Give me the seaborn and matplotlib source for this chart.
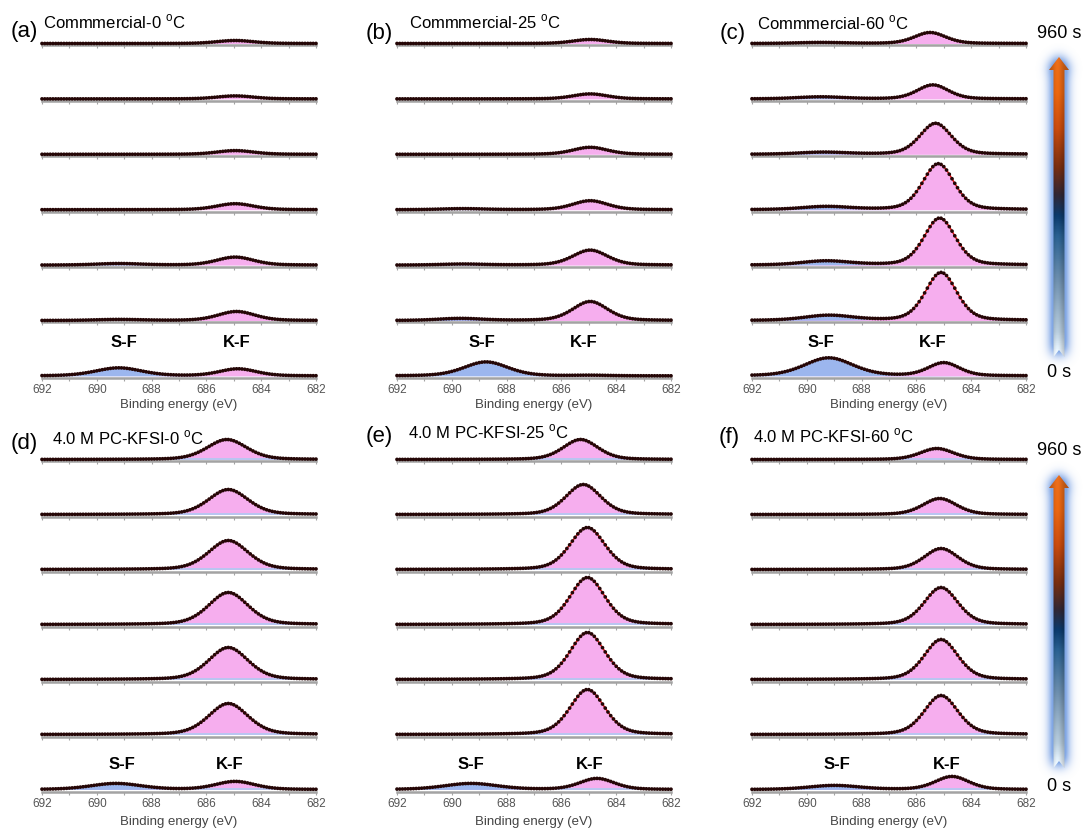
import numpy as np
import matplotlib
matplotlib.use("Agg")
import matplotlib.pyplot as plt
import seaborn as sns
from matplotlib.colors import LinearSegmentedColormap, to_rgb
from matplotlib.path import Path
from matplotlib.patches import PathPatch

sns.set_style("white")
plt.rcParams["font.family"] = ["Liberation Sans", "DejaVu Sans"]
plt.rcParams["mathtext.fontset"] = "custom"
plt.rcParams["mathtext.rm"] = "Liberation Sans"

# ---------------------------------------------------------------- data
panel_letters = ["(a)", "(b)", "(c)", "(d)", "(e)", "(f)"]
panel_titles = [
    r"Commmercial-0 $^{\mathrm{o}}$C",
    r"Commmercial-25 $^{\mathrm{o}}$C",
    r"Commmercial-60 $^{\mathrm{o}}$C",
    r"4.0 M PC-KFSI-0 $^{\mathrm{o}}$C",
    r"4.0 M PC-KFSI-25 $^{\mathrm{o}}$C",
    r"4.0 M PC-KFSI-60 $^{\mathrm{o}}$C",
]
time_labels = ["960 s", "0 s"]
xticks = [692, 690, 688, 686, 684, 682]
xlabel = "Binding energy (eV)"

# Fitted F 1s components, rows ordered from 960 s (top) to 0 s (bottom)
kf_height = [
    [3.0, 3.0, 3.7, 6.0, 8.0, 9.0, 7.0],
    [4.0, 5.0, 7.0, 9.0, 15.0, 19.0, 0.5],
    [11.0, 14.0, 31.0, 46.0, 47.0, 48.0, 13.0],
    [20.0, 25.0, 29.0, 32.0, 32.0, 31.0, 8.0],
    [20.0, 30.0, 42.0, 47.0, 47.0, 45.0, 11.0],
    [11.0, 16.0, 21.0, 37.0, 40.0, 39.0, 13.0],
]
kf_center = [
    [684.95, 684.95, 684.95, 684.95, 684.95, 684.9, 684.85],
    [684.95, 684.95, 684.95, 684.95, 684.95, 684.95, 684.9],
    [685.5, 685.4, 685.3, 685.2, 685.15, 685.1, 685.0],
    [685.25, 685.2, 685.2, 685.2, 685.2, 685.2, 684.95],
    [685.3, 685.2, 685.05, 685.05, 685.05, 685.05, 684.7],
    [685.25, 685.15, 685.1, 685.1, 685.1, 685.1, 684.7],
]
kf_fwhm = [1.6, 1.5, 1.35, 1.7, 1.5, 1.45]

sf_height = [
    [0.0, 0.0, 0.0, 0.0, 1.5, 1.0, 8.0],
    [0.0, 0.0, 0.0, 1.0, 1.0, 2.0, 14.0],
    [1.0, 2.0, 2.0, 3.0, 4.0, 5.0, 18.0],
    [0.0, 0.0, 0.0, 0.0, 0.0, 0.0, 6.0],
    [0.0, 0.0, 0.0, 0.0, 0.0, 0.0, 6.0],
    [0.0, 0.0, 0.0, 0.0, 0.0, 0.0, 4.0],
]
sf_center = [
    [689.2, 689.2, 689.2, 689.2, 689.2, 689.2, 689.2],
    [689.6, 689.6, 689.6, 689.6, 689.6, 689.7, 688.75],
    [689.5, 689.5, 689.4, 689.3, 689.3, 689.2, 689.2],
    [689.3, 689.3, 689.3, 689.3, 689.3, 689.3, 689.3],
    [689.3, 689.3, 689.3, 689.3, 689.3, 689.3, 689.3],
    [689.0, 689.0, 689.0, 689.0, 689.0, 689.0, 689.0],
]
sf_fwhm = [2.0, 1.9, 2.1, 2.2, 2.3, 2.2]

# label anchors (binding energy) for the S-F / K-F tags
sf_label_x = [689.0, 688.9, 689.5, 689.1, 689.3, 688.9]
kf_label_x = [684.9, 685.2, 685.4, 685.15, 684.95, 684.9]

# binding-energy grid of the spectra
energy = np.arange(682.0, 692.001, 0.1)

# ---------------------------------------------------------------- styling
W, H = 1086, 830
PINK = "#f6aeee"
BLUE = "#9cb6ee"
FIT = "#e01414"
DOT = "#240606"
SPINE = "#a3a3a3"

col_left = [42, 397, 752]
ax_w = 274
ax_h = 55
block_base = [43.5, 459.5]
block_step = [55.4, 55.0]


def pseudo_voigt(x, h, c, fwhm, eta=0.3):
    u = (x - c) / fwhm
    return h * ((1 - eta) * np.exp(-4 * np.log(2) * u ** 2) + eta / (1 + 4 * u ** 2))


def fy(y_px):
    return 1 - y_px / H


fig = plt.figure(figsize=(W / 100, H / 100), dpi=100)

for p in range(6):
    block, col = divmod(p, 3)
    x0 = col_left[col]
    for r in range(7):
        base = block_base[block] + block_step[block] * r
        ax = fig.add_axes([x0 / W, fy(base + 2), ax_w / W, ax_h / H])
        ax.patch.set_alpha(0)
        kf = pseudo_voigt(energy, kf_height[p][r], kf_center[p][r], kf_fwhm[p])
        sf = pseudo_voigt(energy, sf_height[p][r], sf_center[p][r], sf_fwhm[p])
        total = kf + sf
        ax.fill_between(energy, 0, sf, color=BLUE, lw=0, zorder=1)
        ax.fill_between(energy, 0, kf, color=PINK, lw=0, zorder=2)
        if p >= 3:
            m = kf > 1.0
            ax.plot(energy[m], np.zeros(m.sum()) + 0.3, color="#a9cdf2", lw=1.1, zorder=2.5)
        # fitted envelope under the measured points
        sns.lineplot(x=energy, y=total, color=FIT, lw=1.1, ax=ax, zorder=3,
                     legend=False, clip_on=False)
        sns.scatterplot(x=energy, y=total, s=7, color=DOT, edgecolor="none",
                        ax=ax, zorder=4, legend=False, clip_on=False)
        ax.set_xlim(692, 682)
        ax.set_ylim(-2, 53)
        for s in ("left", "right", "top"):
            ax.spines[s].set_visible(False)
        ax.spines["bottom"].set_color(SPINE)
        ax.spines["bottom"].set_linewidth(1.8)
        ax.set_yticks([])
        ax.set_xticks(xticks)
        ax.set_xticks(np.arange(682, 693, 1), minor=True)
        ax.tick_params(axis="x", which="both", direction="out", length=2.5,
                       width=0.8, color=SPINE, bottom=True, labelsize=8.5,
                       labelcolor="#555555", pad=2)
        ax.set_xlabel("")
        ax.set_ylabel("")
        if r < 6:
            ax.set_xticklabels([])
        else:
            ax.set_xticklabels([str(t) for t in xticks])
            lab_off = 33 if block == 0 else 25
            ax.text(sf_label_x[p], lab_off, "S-F", ha="center", va="center",
                    fontsize=12, fontweight="bold", color="black", clip_on=False)
            ax.text(kf_label_x[p], lab_off, "K-F", ha="center", va="center",
                    fontsize=12, fontweight="bold", color="black", clip_on=False)

    # axis title under each stack
    xl_y = 405 if block == 0 else 822
    fig.text((x0 + ax_w / 2) / W, fy(xl_y), xlabel, ha="center", va="center",
             fontsize=9.5, color="#444444")

# panel letters and titles
letter_x = [11, 366, 720, 11, 366, 719]
letter_y = [32, 33, 33, 443, 436, 437]
title_x = [43, 409, 757, 52, 408, 753]
title_y = [22, 22, 23, 438, 432, 436]
for p in range(6):
    fig.text(letter_x[p] / W, fy(letter_y[p]), panel_letters[p], ha="left",
             va="center", fontsize=16, color="black")
    fig.text(title_x[p] / W, fy(title_y[p]), panel_titles[p], ha="left",
             va="center", fontsize=12, color="black")

# ---------------------------------------------------------------- time arrows
ov = fig.add_axes([0, 0, 1, 1], zorder=-1)
ov.set_xlim(0, W)
ov.set_ylim(H, 0)
ov.axis("off")

arrow_cmap = LinearSegmentedColormap.from_list("time", [
    (0.00, "#e4ecf2"), (0.08, "#a9bccb"), (0.25, "#6684a0"),
    (0.40, "#275985"), (0.47, "#0a3563"), (0.54, "#2e2430"),
    (0.63, "#6e2a10"), (0.76, "#b9450d"), (0.88, "#d75e10"),
    (1.00, "#d8661a"),
])


def blur(a, sigma):
    r = int(3 * sigma)
    k = np.exp(-0.5 * (np.arange(-r, r + 1) / sigma) ** 2)
    k /= k.sum()
    a = np.apply_along_axis(lambda v: np.convolve(v, k, mode="same"), 0, a)
    return np.apply_along_axis(lambda v: np.convolve(v, k, mode="same"), 1, a)


def time_arrow(cx, y_tip, y_bot):
    hw, hh, hl = 5.5, 10.0, 13.0
    verts = [(cx - hw, y_bot), (cx - hw, y_tip + hl), (cx - hh, y_tip + hl),
             (cx, y_tip), (cx + hh, y_tip + hl), (cx + hw, y_tip + hl),
             (cx + hw, y_bot), (cx, y_bot - 7), (cx - hw, y_bot)]
    path = Path(verts, closed=True)

    # soft halo
    pad = 28
    xs = np.arange(cx - pad, cx + pad + 1, 1.0)
    ys = np.arange(y_tip - pad, y_bot + pad + 1, 1.0)
    gx, gy = np.meshgrid(xs, ys)
    inside = path.contains_points(np.c_[gx.ravel(), gy.ravel()]).reshape(gx.shape)
    halo = blur(inside.astype(float), 6.0)
    alpha = np.clip(halo * 2.6, 0, 1) * 0.95
    rgba = np.zeros(gx.shape + (4,))
    rgba[..., :3] = to_rgb("#7aa2e4")
    rgba[..., 3] = alpha
    ov.imshow(rgba, extent=(xs[0], xs[-1], ys[-1], ys[0]), origin="upper",
              interpolation="bilinear", aspect="auto", zorder=1)

    # colour ramp clipped to the arrow outline
    n = 400
    v = np.linspace(0, 1, n)[:, None]
    u = np.linspace(0, 1, 40)[None, :]
    shade = 0.82 + 0.28 * np.exp(-((u - 0.42) / 0.28) ** 2)
    rgb = arrow_cmap(np.repeat(v, 40, axis=1))[..., :3] * shade[..., None]
    rgb = np.clip(rgb, 0, 1)
    im = ov.imshow(rgb, extent=(cx - hh, cx + hh, y_bot, y_tip), origin="lower",
                   interpolation="bilinear", aspect="auto", zorder=2)
    patch = PathPatch(path, transform=ov.transData, facecolor="none", edgecolor="none")
    ov.add_patch(patch)
    im.set_clip_path(patch)


arrow_cx = 1059
time_arrow(arrow_cx, 57, 357)
time_arrow(arrow_cx, 475, 768)
for y_top, y_zero in [(33, 372), (450, 786)]:
    fig.text(arrow_cx / W, fy(y_top), time_labels[0], ha="center", va="center",
             fontsize=13, color="black")
    fig.text(arrow_cx / W, fy(y_zero), time_labels[1], ha="center", va="center",
             fontsize=13, color="black")

fig.savefig("out.png", dpi=100)
